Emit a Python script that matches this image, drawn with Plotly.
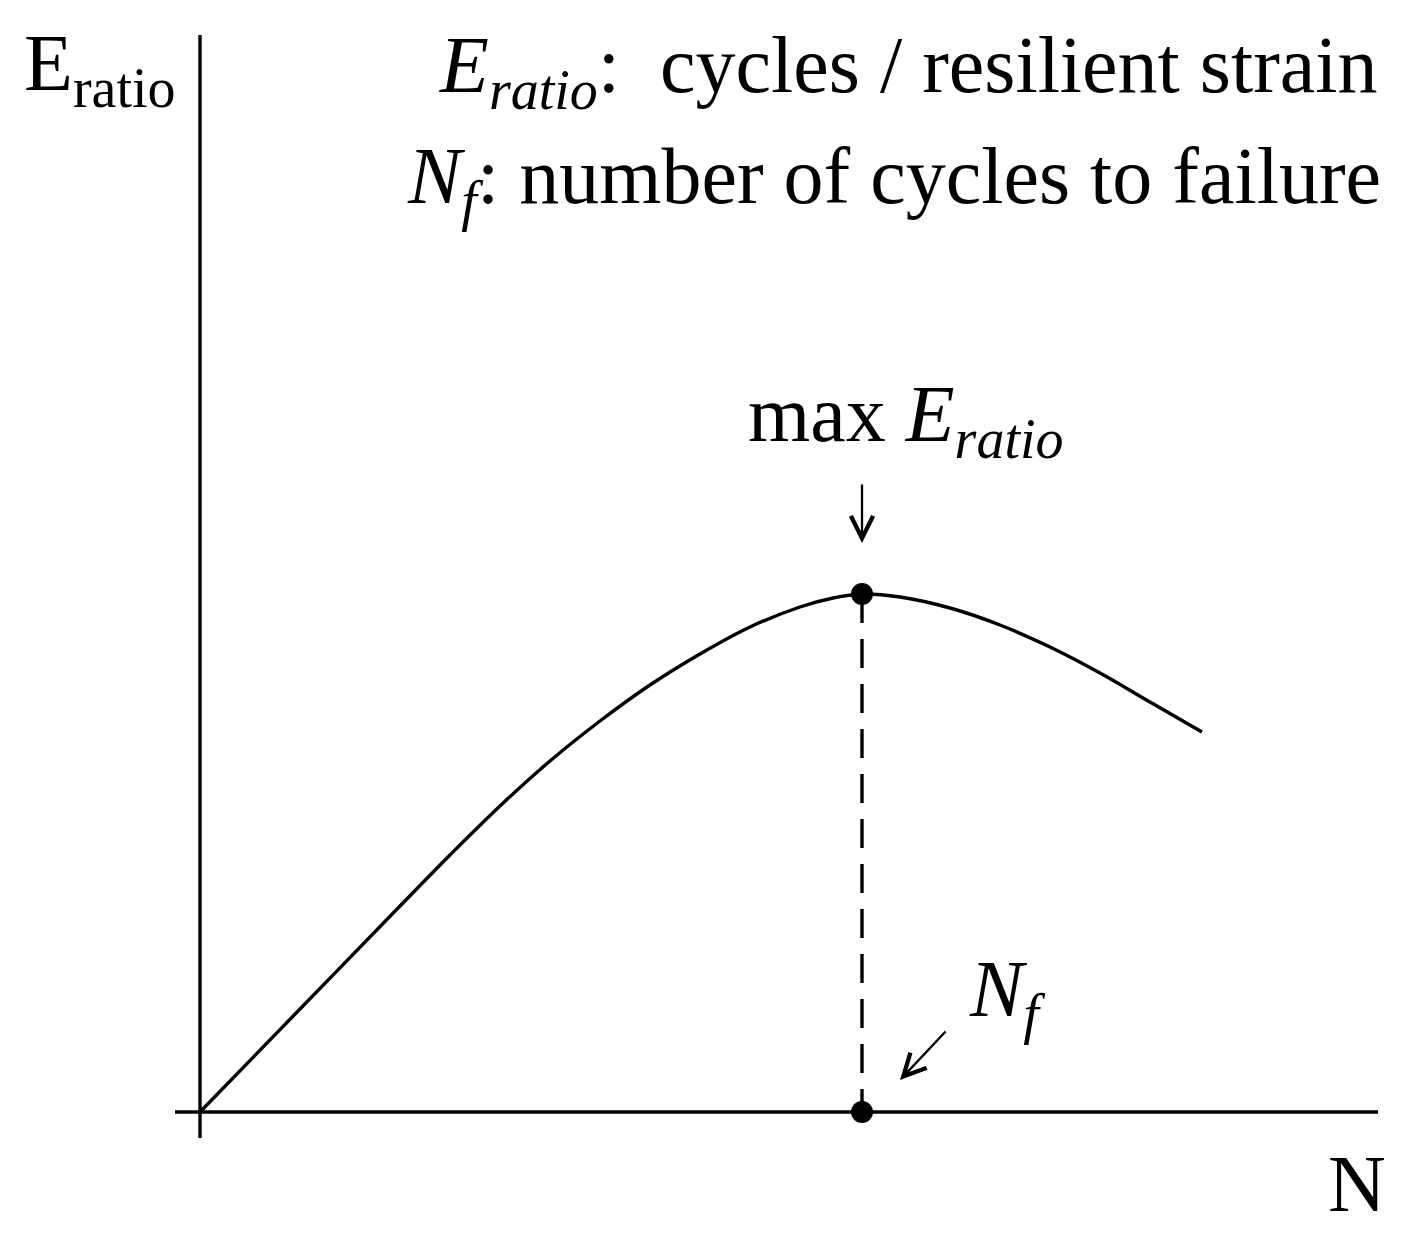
import plotly.graph_objects as go

# schematic curve: N (cycles) vs E_ratio, arbitrary units
n_vals = [0.0, 1.0, 2.0, 2.5, 3.0, 3.5, 4.0, 4.5, 5.0, 5.5, 6.0, 6.33, 6.62,
          7.0, 7.5, 8.0, 8.5, 9.0, 9.5, 10.02]
e_ratio = [0.0, 1.03, 2.06, 2.57, 3.06, 3.51, 3.91, 4.27, 4.58, 4.85, 5.05, 5.14, 5.18,
           5.15, 5.04, 4.87, 4.65, 4.39, 4.10, 3.80]

# the point of max E_ratio and where it meets the N axis
n_f = 6.62
e_max = 5.18

# how far the drawn axes reach
x_axis_extent = [-0.25, 11.78]
y_axis_extent = [-0.26, 10.77]

FONT = "Liberation Serif"
BLACK = "black"
LW = 3.4

fig = go.Figure()

# axes
fig.add_trace(go.Scatter(x=x_axis_extent, y=[0, 0], mode="lines",
                         line=dict(color=BLACK, width=LW), hoverinfo="skip"))
fig.add_trace(go.Scatter(x=[0, 0], y=y_axis_extent, mode="lines",
                         line=dict(color=BLACK, width=LW), hoverinfo="skip"))

# the curve
fig.add_trace(go.Scatter(x=n_vals, y=e_ratio, mode="lines",
                         line=dict(color=BLACK, width=LW, shape="spline", smoothing=1.0)))

# dashed drop line from the max down to N_f
fig.add_trace(go.Scatter(x=[n_f, n_f], y=[e_max, 0], mode="lines",
                         line=dict(color=BLACK, width=LW, dash="29px,16px")))

# dots
fig.add_trace(go.Scatter(x=[n_f, n_f], y=[e_max, 0], mode="markers",
                         marker=dict(color=BLACK, size=22)))

txt = dict(family=FONT, size=80, color=BLACK)

annos = [
    dict(x=-1.78, y=10.43, text="E<sub>ratio</sub>", xanchor="left", yanchor="middle"),
    dict(x=11.8, y=10.41, text="<i>E<sub>ratio</sub></i>:  cycles / resilient strain",
         xanchor="right", yanchor="middle"),
    dict(x=11.83, y=9.30, text="<i>N<sub>f</sub></i>: number of cycles to failure",
         xanchor="right", yanchor="middle"),
    dict(x=7.06, y=6.92, text="max <i>E<sub>ratio</sub></i>", xanchor="center", yanchor="middle"),
    dict(x=7.67, y=1.17, text="<i>N<sub>f</sub></i>", xanchor="left", yanchor="middle"),
    dict(x=11.57, y=-0.72, text="N", xanchor="center", yanchor="middle"),
]
for a in annos:
    fig.add_annotation(showarrow=False, font=txt, **a)

# arrows
arrow = dict(text="", showarrow=True, axref="x", ayref="y", arrowhead=5,
             arrowsize=1.9, arrowwidth=2.3, arrowcolor=BLACK)
fig.add_annotation(x=n_f, y=5.69, ax=n_f, ay=6.29, **arrow)
fig.add_annotation(x=7.0, y=0.32, ax=7.47, ay=0.82, **arrow)

# page body has an 8px margin, so the figure is a bit smaller than the window
fig.update_xaxes(range=[-1.92, 12.08], visible=False)
fig.update_yaxes(range=[-1.19, 11.04], visible=False)
fig.update_layout(
    width=1400, height=1223,
    margin=dict(l=0, r=0, t=0, b=0),
    plot_bgcolor="white", paper_bgcolor="white",
    showlegend=False,
)

fig.write_html("out.html")
